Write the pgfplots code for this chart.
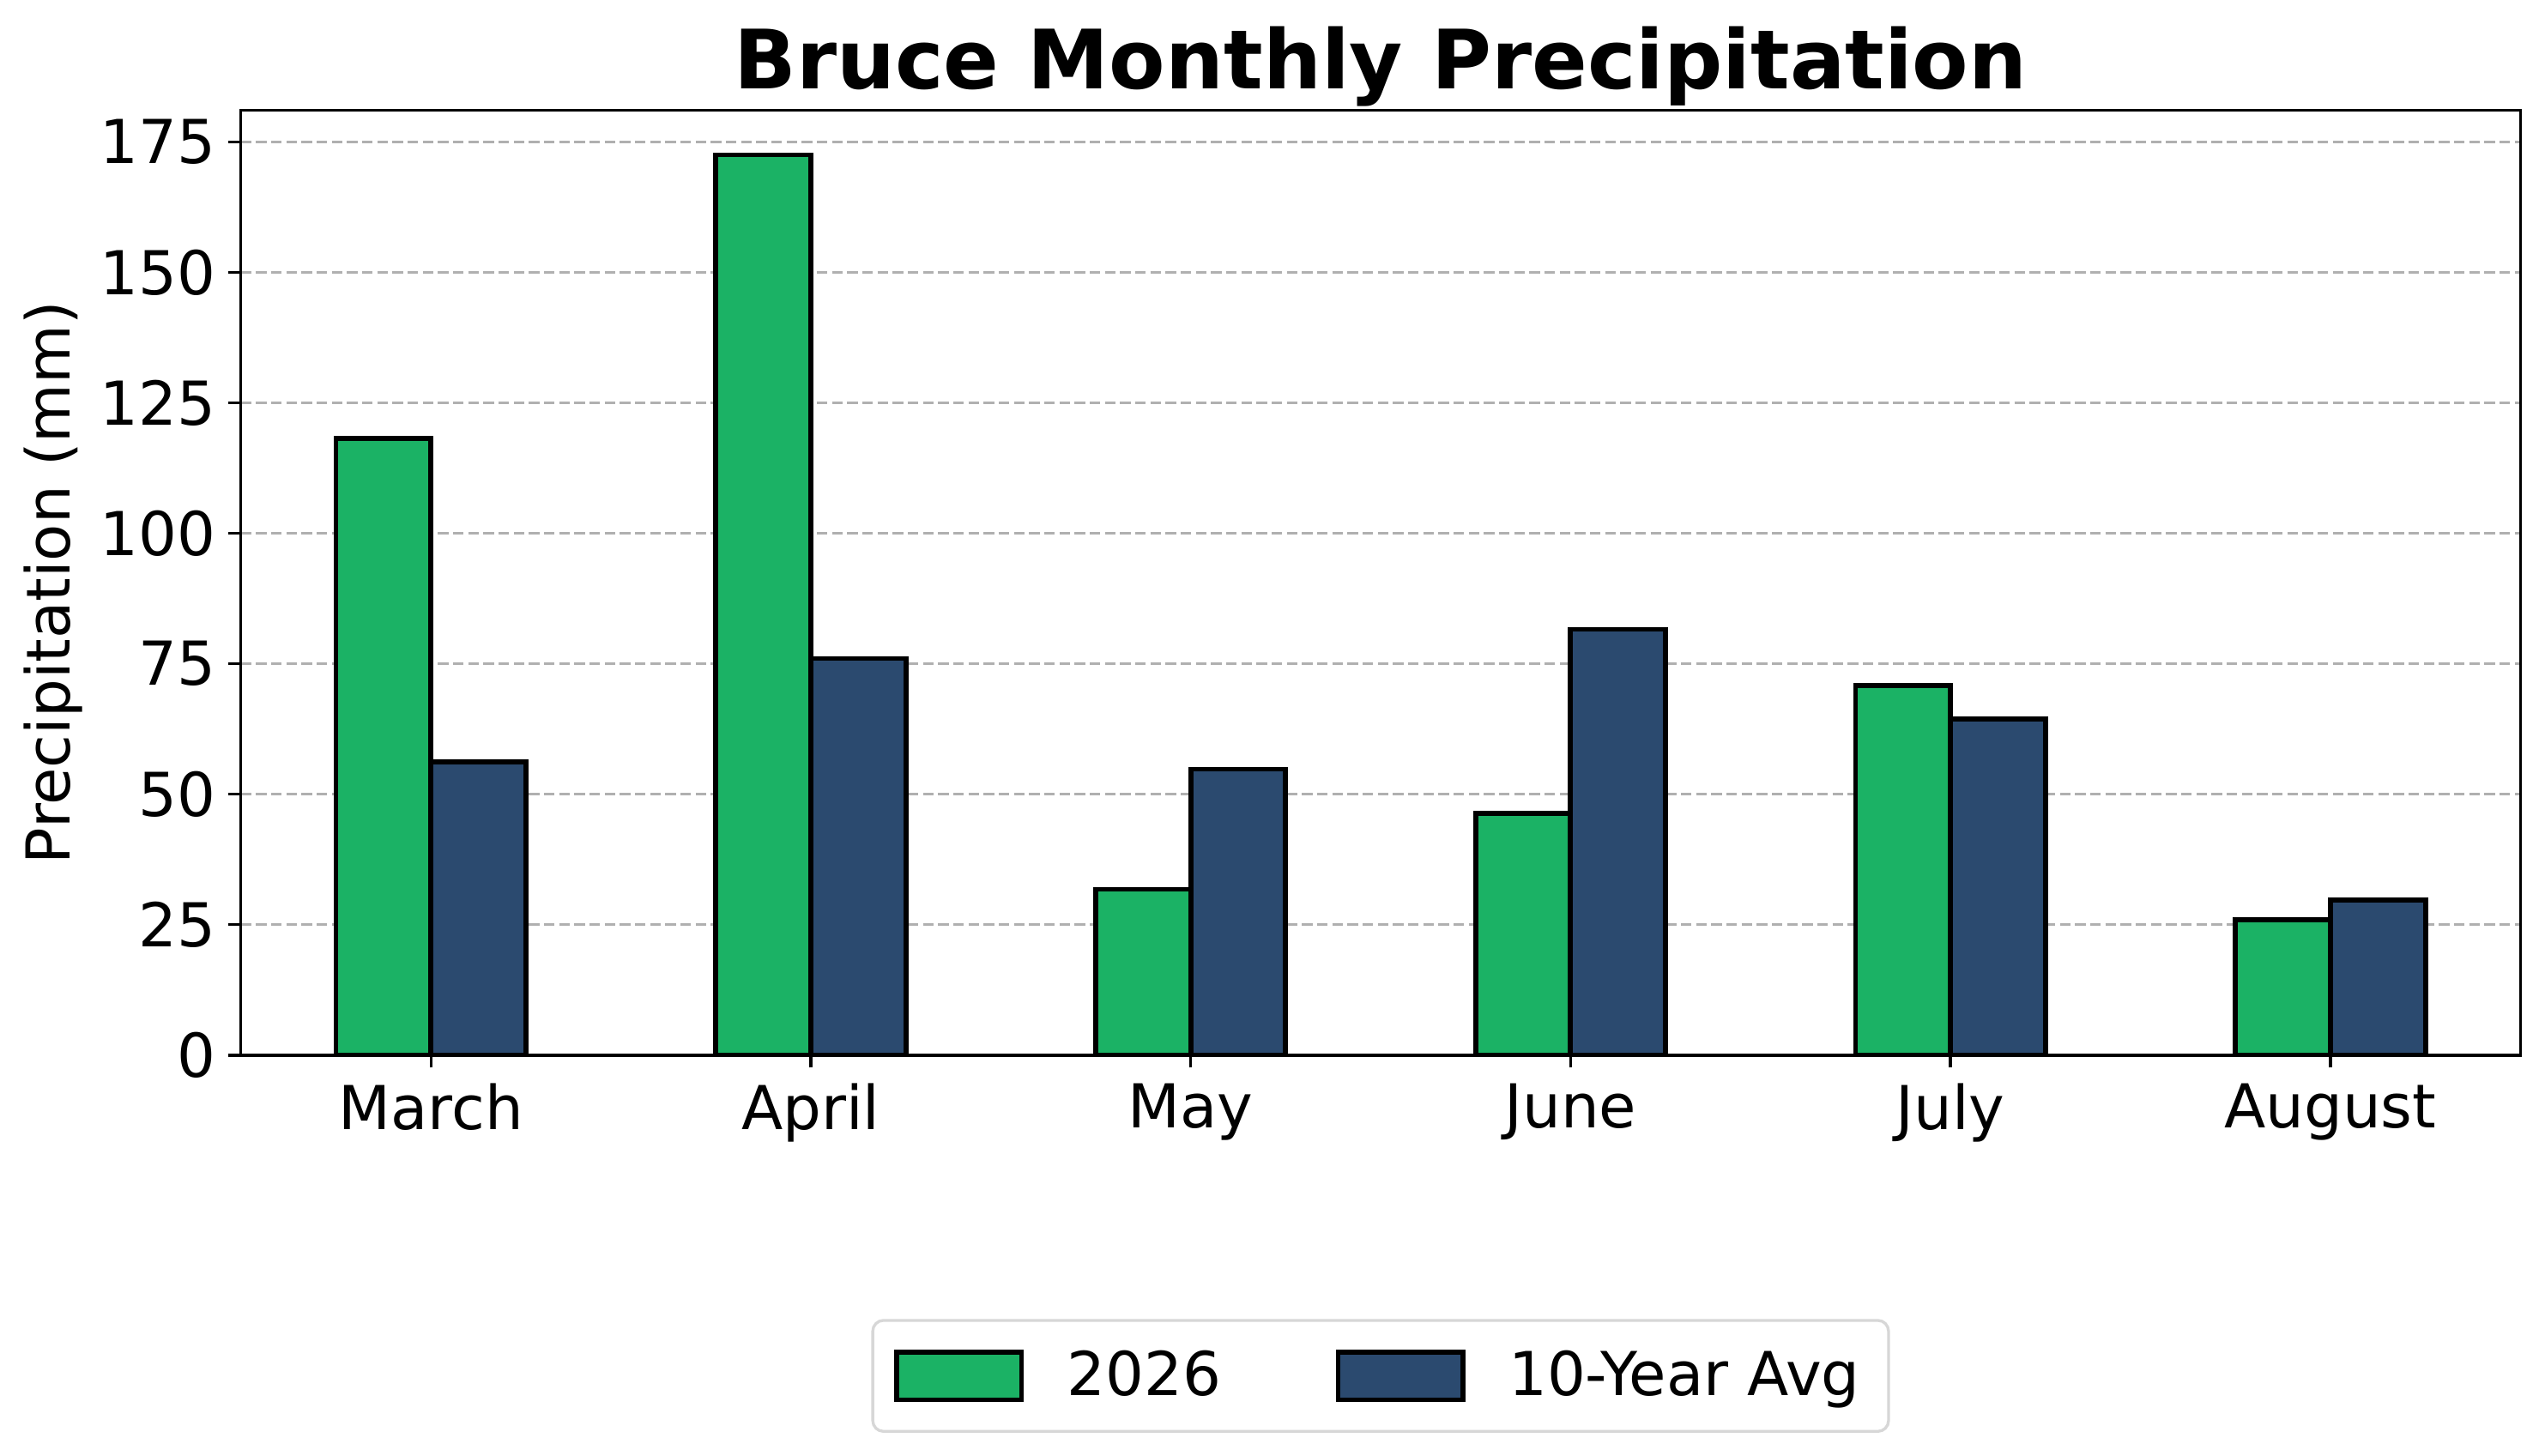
\documentclass[border=0pt]{standalone}
\usepackage{fontspec}
\setmainfont{DejaVu Sans}
\usepackage{pgfplots}
\pgfplotsset{compat=1.18}
\definecolor{cgreen}{RGB}{27,178,101}
\definecolor{cblue}{RGB}{43,74,111}
\definecolor{gridgray}{RGB}{176,176,176}
\definecolor{legedge}{RGB}{215,215,215}
\begin{document}
\begin{tikzpicture}
\begin{axis}[
  at={(0,0)}, anchor=south west,
  width=637.6bp, height=264.3bp, scale only axis,
  xmin=-0.5, xmax=5.5, ymin=0, ymax=181,
  xtick={0,1,2,3,4,5},
  xticklabels={March,April,May,June,July,August},
  ytick={0,25,50,75,100,125,150,175},
  tick pos=left,
  tick align=outside,
  major tick length=3.5bp,
  tick style={black, line width=0.8bp},
  axis line style={line width=0.8bp},
  ymajorgrids,
  grid style={gridgray, line width=0.8bp, dash pattern=on 2.96bp off 1.28bp},
  ticklabel style={font=\fontsize{17}{20}\selectfont},
  xticklabel style={yshift=-1bp},
  /pgf/number format/assume math mode=true,
  ylabel={Precipitation (mm)},
  ylabel style={font=\fontsize{17}{20}\selectfont, at={(axis description cs:-0.0825,0.5)}, anchor=center},
  title={Bruce Monthly Precipitation},
  title style={font=\fontsize{23}{27}\selectfont\bfseries, at={(axis description cs:0.5,1)}, anchor=base},
  ybar, bar width=0.25,
  legend columns=2,
  legend image code/.code={\draw[#1, sharp corners] (0bp,-6.7bp) rectangle (34.9bp,6.7bp); \path (45bp,0bp);},
  legend style={at={(0.5,-0.3394)}, anchor=center, draw=legedge, rounded corners=3bp, line width=0.8bp,
    font=\fontsize{17}{20}\selectfont, inner xsep=6bp, inner ysep=6.5bp,
    /tikz/every even column/.append style={column sep=30bp}},
]
\addplot[fill=cgreen, draw=black, line width=1.4bp, bar shift=-0.125] coordinates {(0,118.1) (1,172.5) (2,31.8) (3,46.3) (4,70.8) (5,26.0)};
\addplot[fill=cblue, draw=black, line width=1.4bp, bar shift=0.125] coordinates {(0,56.2) (1,76.0) (2,54.8) (3,81.6) (4,64.4) (5,29.7)};
\legend{2026, 10-Year Avg}
\end{axis}
\pgfresetboundingbox
\path[use as bounding box] (-67.4bp,-112.1bp) rectangle (644.5bp,295.2bp);
\end{tikzpicture}
\end{document}
